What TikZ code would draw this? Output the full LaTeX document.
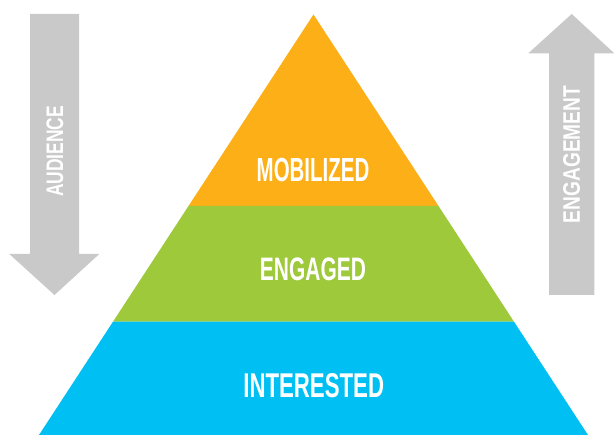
\documentclass[tikz,border=0pt]{standalone}
\usepackage{fontspec}
\setmainfont{Liberation Sans}
\usepackage{graphicx}
\definecolor{pyrorange}{HTML}{FCAF17}
\definecolor{pyrgreen}{HTML}{9DC93B}
\definecolor{pyrblue}{HTML}{00BFF3}
\definecolor{arrgrey}{HTML}{C9C9CA}
\tikzset{
  layer/.style={draw=none},
  bigarrow/.style={fill=arrgrey, draw=none},
  lbl/.style={inner sep=0pt, text=white, font=\bfseries},
}
\begin{document}
\begin{tikzpicture}[x=1pt,y=-1pt]
\useasboundingbox (0,0) rectangle (614,435);
% pyramid layers
\fill[layer, pyrorange] (313.5,14.5) -- (438.5,206) -- (188.5,206) -- cycle;
\fill[layer, pyrgreen] (188.5,206) -- (438.5,206) -- (514,321.7) -- (113,321.7) -- cycle;
\fill[layer, pyrblue] (113,321.7) -- (514,321.7) -- (588,435) -- (39,435) -- cycle;
% arrows
\fill[bigarrow] (30,14) -- (79,14) -- (79,254) -- (99.3,254) -- (54.5,295) -- (9.3,254) -- (30,254) -- cycle;
\fill[bigarrow] (571.7,14) -- (614.3,53.3) -- (594.3,53.3) -- (594.3,295) -- (549,295) -- (549,53.3) -- (528.3,53.3) -- cycle;
% labels
\node[lbl] (mob) at (313,170) {\resizebox{112.6pt}{23.3pt}{MOBILIZED}};
\node[lbl] (eng) at (313,269.7) {\resizebox{106pt}{22.7pt}{ENGAGED}};
\node[lbl] (int) at (313.7,385.8) {\resizebox{140.7pt}{24pt}{INTERESTED}};
\node[lbl, rotate=90] (aud) at (55,151.5) {\resizebox{91pt}{16.7pt}{AUDIENCE}};
\node[lbl, rotate=90] (engm) at (571.7,154.5) {\resizebox{137pt}{16.7pt}{ENGAGEMENT}};
\end{tikzpicture}
\end{document}
